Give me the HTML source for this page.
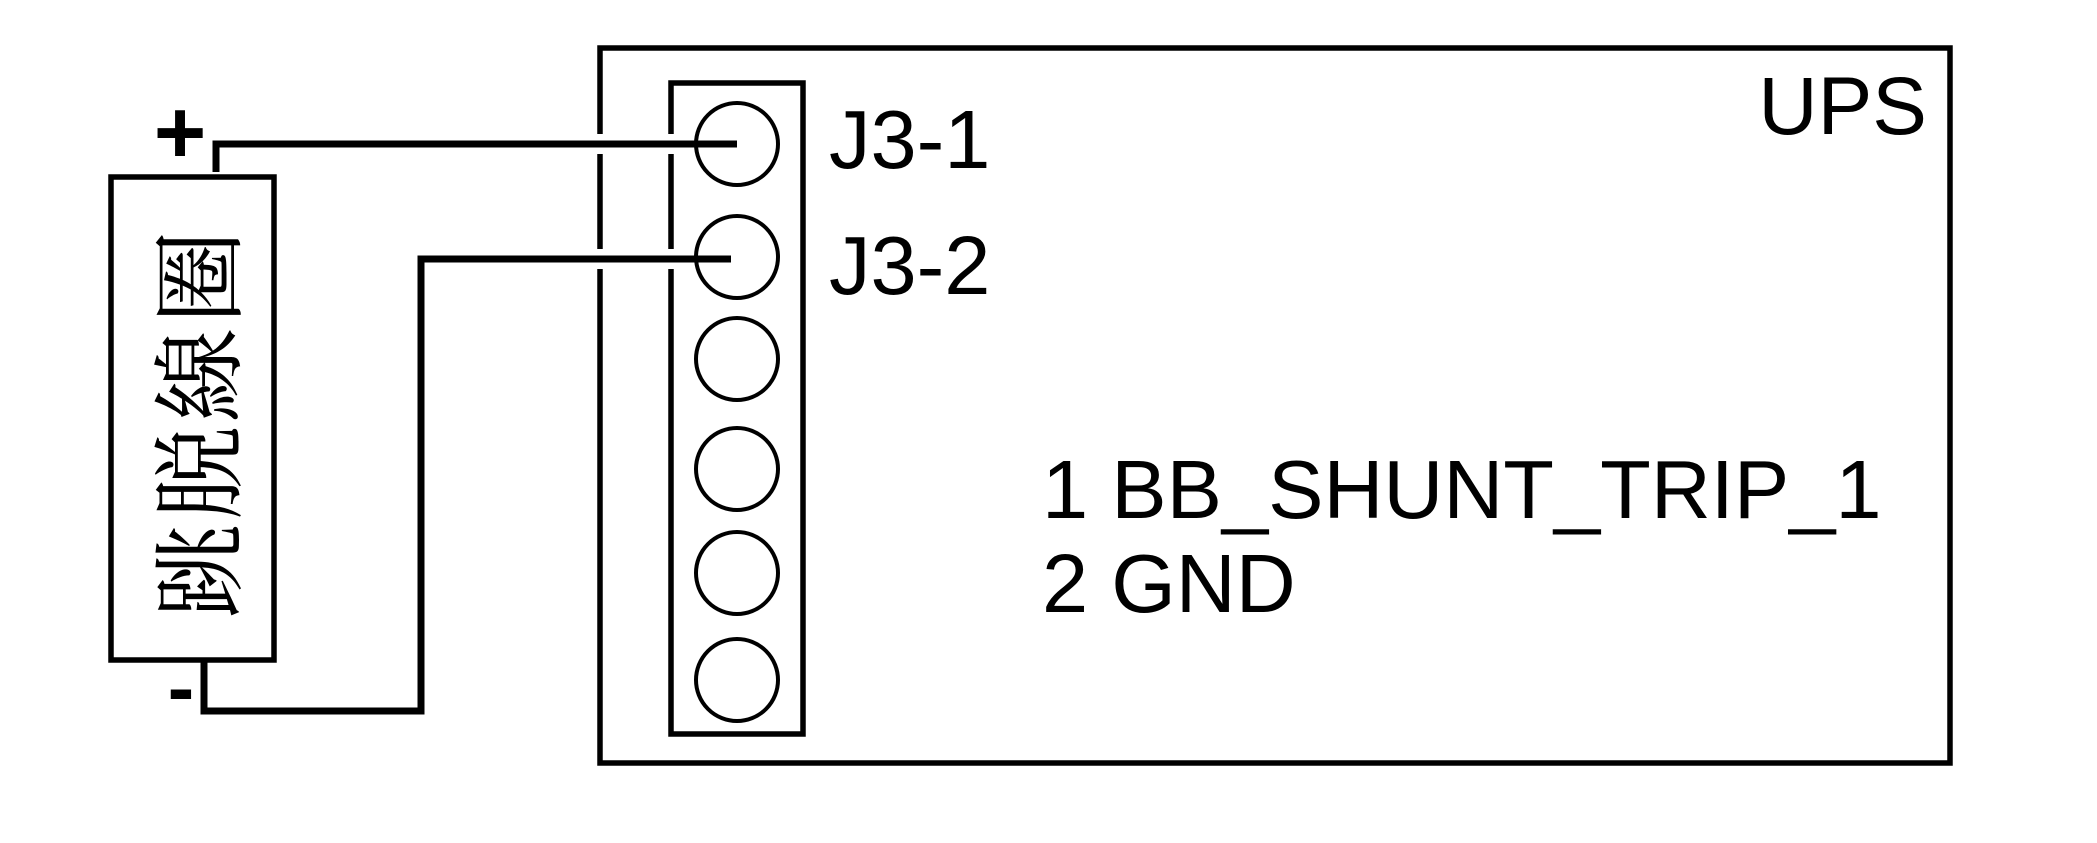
<!DOCTYPE html>
<html><head><meta charset="utf-8"><style>
html,body{margin:0;padding:0;background:#fff;}
svg{display:block}
</style></head><body>
<svg width="2097" height="843" viewBox="0 0 2097 843" xmlns="http://www.w3.org/2000/svg">
<rect x="0" y="0" width="2097" height="843" fill="#fff"/>
<!-- UPS box -->
<rect x="600" y="48" width="1350" height="715" fill="none" stroke="#000" stroke-width="5.5"/>
<!-- connector strip -->
<rect x="671" y="83" width="132" height="651" fill="none" stroke="#000" stroke-width="5.5"/>
<g fill="none" stroke="#000" stroke-width="4">
<circle cx="737" cy="144" r="41"/>
<circle cx="737" cy="257" r="41"/>
<circle cx="737" cy="359" r="41"/>
<circle cx="737" cy="469" r="41"/>
<circle cx="737" cy="573" r="41"/>
<circle cx="737" cy="680" r="41"/>
</g>
<!-- gaps where wires cross -->
<rect x="596" y="134" width="9" height="20" fill="#fff"/>
<rect x="667" y="134" width="9" height="20" fill="#fff"/>
<rect x="596" y="249" width="9" height="20" fill="#fff"/>
<rect x="667" y="249" width="9" height="20" fill="#fff"/>
<!-- coil box -->
<rect x="111" y="177" width="163" height="483" fill="none" stroke="#000" stroke-width="5.5"/>
<!-- wires -->
<polyline points="216,172 216,144 737,144" fill="none" stroke="#000" stroke-width="7"/>
<polyline points="731,259 421,259 421,711 204,711 204,659" fill="none" stroke="#000" stroke-width="7"/>
<!-- labels -->
<g font-family="Liberation Sans, Arial, sans-serif" fill="#000">
<text x="829" y="168" font-size="83">J3-1</text>
<text x="829" y="294" font-size="83">J3-2</text>
<text x="1927" y="134" font-size="82" text-anchor="end">UPS</text>
<text x="1042" y="518" font-size="83">1 BB_SHUNT_TRIP_1</text>
<text x="1042" y="612" font-size="83">2 GND</text>
<text x="180" y="163" font-size="90" font-weight="bold" text-anchor="middle">+</text>
<text x="181" y="715" font-size="80" font-weight="bold" text-anchor="middle">-</text>
</g>
<text transform="translate(233,422) rotate(-90)" font-family="Liberation Serif, Noto Serif CJK SC, serif" font-size="94" text-anchor="middle" letter-spacing="4" fill="#000">跳脱線圈</text>
</svg>
</body></html>
